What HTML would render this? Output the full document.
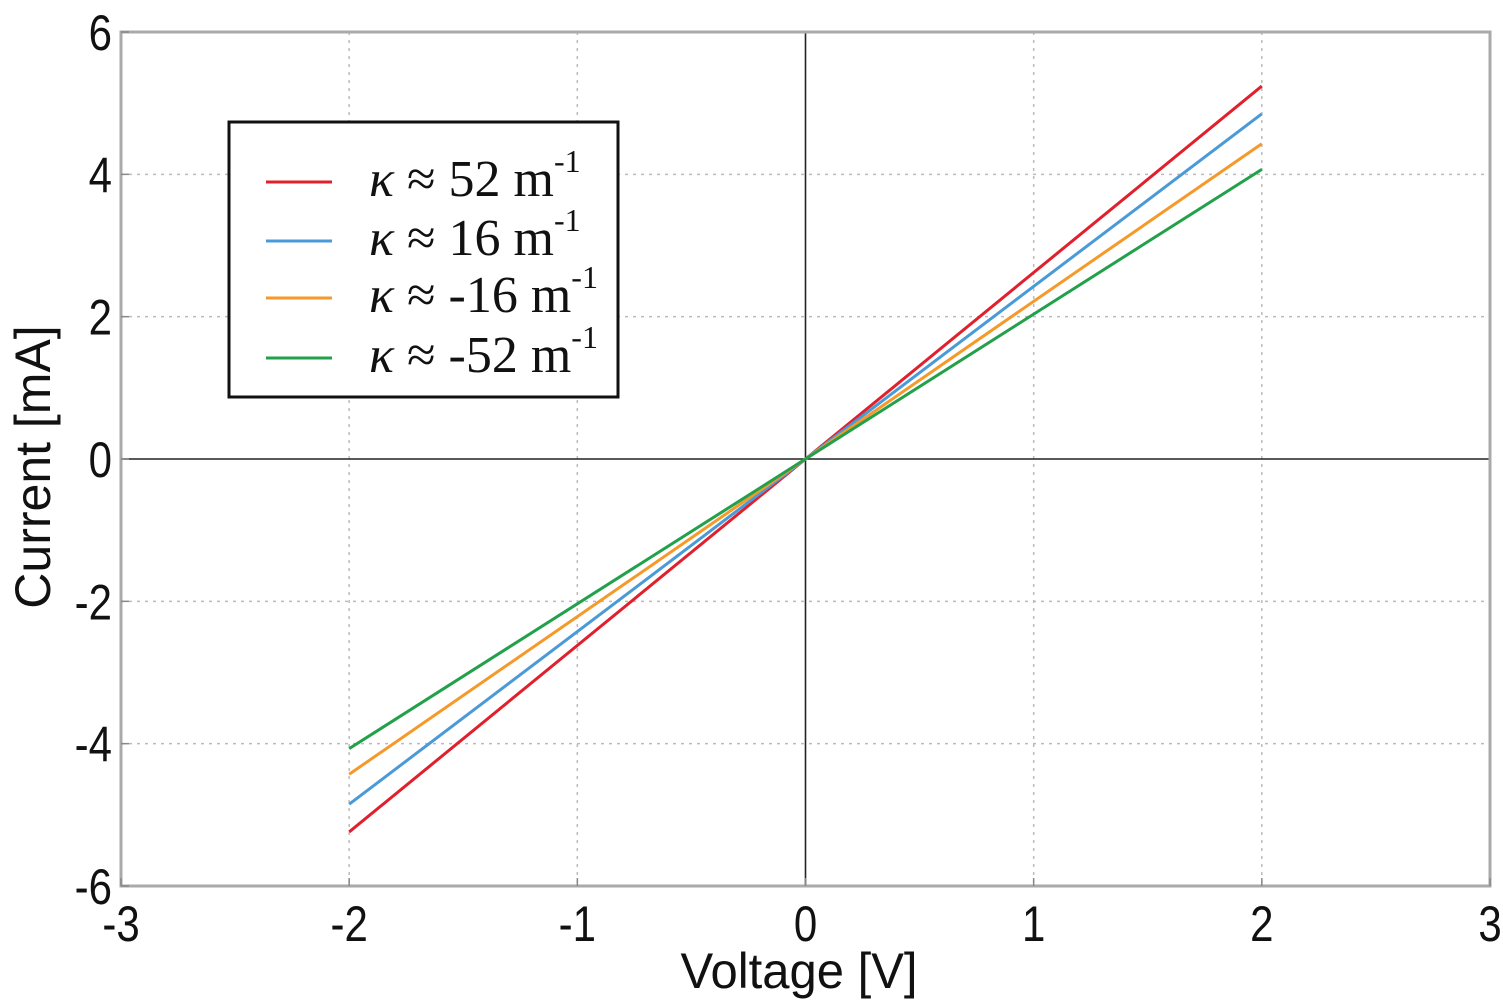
<!DOCTYPE html>
<html><head><meta charset="utf-8"><style>
html,body{margin:0;padding:0;background:#fff;}
svg{display:block;}
.tick{font-family:"Liberation Sans",sans-serif;font-size:50px;fill:#111;}
.leg{font-family:"Liberation Serif",serif;font-size:52px;fill:#111;}
</style></head><body>
<svg id="chart" width="1503" height="1000" viewBox="0 0 1503 1000" xmlns="http://www.w3.org/2000/svg"></svg>
<script>
const xTicks = [-3,-2,-1,0,1,2,3];
const yTicks = [-6,-4,-2,0,2,4,6];
const seriesNames = ["κ ≈ 52 m", "κ ≈ 16 m", "κ ≈ -16 m", "κ ≈ -52 m"];
const seriesColors = ["#e0202c", "#4a9ad8", "#f59a2a", "#22a04a"];
const voltages = [-2, 0, 2];
const red = [-5.24, 0, 5.24];
const blue = [-4.85, 0, 4.85];
const orange = [-4.43, 0, 4.43];
const green = [-4.07, 0, 4.07];
const seriesValues = [red, blue, orange, green];

const L=121, R=1490, T=32, B=886;
const xs = v => L + (v+3)/6*(R-L);
const ys = v => B - (v+6)/12*(B-T);
const svg = document.getElementById('chart');
const NS = 'http://www.w3.org/2000/svg';
function mk(tag, attrs){const e=document.createElementNS(NS,tag);for(const k in attrs)e.setAttribute(k,attrs[k]);svg.appendChild(e);return e;}

xTicks.forEach(t=>{ if(t!==0 && t>-3 && t<3){const g=mk('line',{x1:xs(t),x2:xs(t),y1:T,y2:B,stroke:'#bbb','stroke-width':1.5,'stroke-dasharray':'3,5'});

}});
yTicks.forEach(t=>{ if(t!==0 && t>-6 && t<6){const g=mk('line',{x1:L,x2:R,y1:ys(t),y2:ys(t),stroke:'#bbb','stroke-width':1.5,'stroke-dasharray':'3,5'});

}});
const zx=mk('line',{x1:xs(0),x2:xs(0),y1:T,y2:B,stroke:'#222','stroke-width':1.6});


const zy=mk('line',{x1:L,x2:R,y1:ys(0),y2:ys(0),stroke:'#222','stroke-width':1.6});


const fr=mk('rect',{x:L,y:T,width:R-L,height:B-T,fill:'none',stroke:'#aaa','stroke-width':3});


xTicks.forEach(t=>{const e=mk('text',{x:0,y:0,'text-anchor':'middle',class:'tick',transform:'translate('+xs(t)+',941) scale(0.84,1)'});e.textContent=t;


const tk=mk('line',{x1:xs(t),x2:xs(t),y1:B,y2:B-8,stroke:'#888','stroke-width':1.5});

});
yTicks.forEach(t=>{const e=mk('text',{x:0,y:0,'text-anchor':'end',class:'tick',transform:'translate(112,'+(ys(t)+18)+') scale(0.84,1)'});e.textContent=t;


const tk=mk('line',{x1:L,x2:L+8,y1:ys(t),y2:ys(t),stroke:'#888','stroke-width':1.5});

});
const xt=mk('text',{x:0,y:0,'text-anchor':'middle',class:'tick',transform:'translate(799,988) scale(0.98,1)'});xt.textContent='Voltage [V]';


const yt=mk('text',{x:0,y:0,'text-anchor':'middle',class:'tick',transform:'translate(50,467) rotate(-90)'});yt.textContent='Current [mA]';


seriesValues.forEach((vals,i)=>{
  const pts=voltages.map((v,j)=>xs(v)+','+ys(vals[j])).join(' ');
  const p=mk('polyline',{points:pts,fill:'none',stroke:seriesColors[i],'stroke-width':3});
  
  
});
const lb=mk('rect',{x:229,y:122,width:389,height:275,fill:'#fff',stroke:'#111','stroke-width':3});


const legY=[182,241,298,358];
seriesNames.forEach((n,i)=>{
  const l=mk('line',{x1:266,x2:332,y1:legY[i],y2:legY[i],stroke:seriesColors[i],'stroke-width':3});
  
  
  const t=mk('text',{x:369,y:legY[i]+14,class:'leg'});
  
  
  const k=document.createElementNS(NS,'tspan');k.setAttribute('font-style','italic');k.textContent='κ';t.appendChild(k);
  const r=document.createElementNS(NS,'tspan');r.textContent=n.slice(1);t.appendChild(r);
  const s=document.createElementNS(NS,'tspan');s.setAttribute('dy','-24');s.setAttribute('font-size','32');s.textContent='-1';t.appendChild(s);
});
</script>
</body></html>
